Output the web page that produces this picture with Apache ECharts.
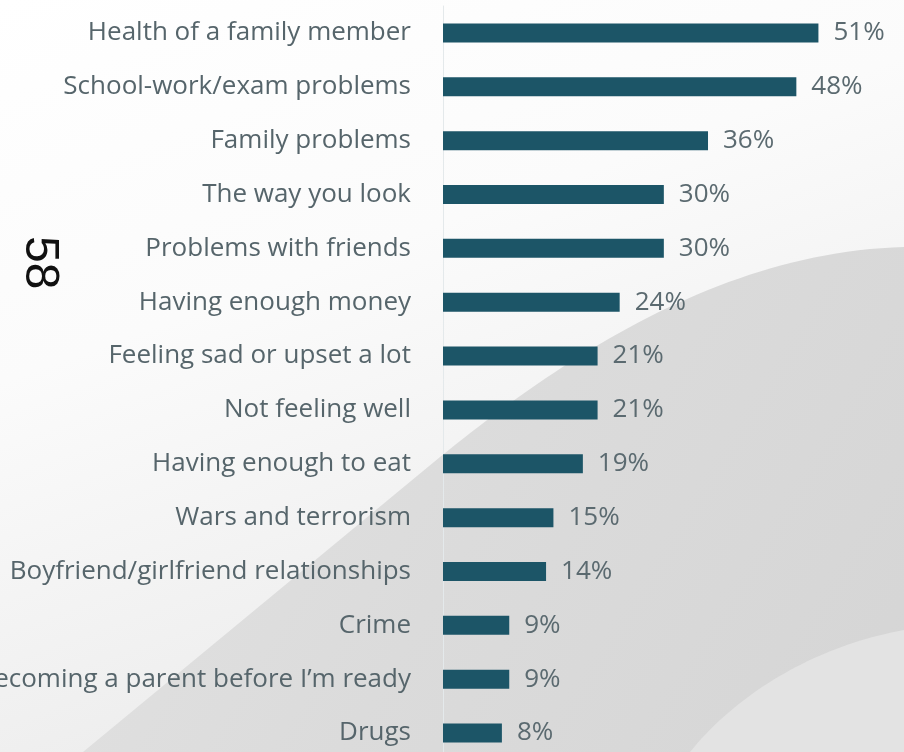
<!DOCTYPE html>
<html>
<head>
<meta charset="utf-8">
<script src="https://cdn.jsdelivr.net/npm/echarts@6/dist/echarts.min.js"></script>
<style>
  html, body { margin: 0; padding: 0; background: #ffffff; }
  #chart { width: 904px; height: 752px; }
</style>
</head>
<body>
<div id="chart"></div>
<script>
// Worries reported, share of respondents (%)
const categories = [
  'Health of a family member',
  'School-work/exam problems',
  'Family problems',
  'The way you look',
  'Problems with friends',
  'Having enough money',
  'Feeling sad or upset a lot',
  'Not feeling well',
  'Having enough to eat',
  'Wars and terrorism',
  'Boyfriend/girlfriend relationships',
  'Crime',
  'Becoming a parent before I\u2019m ready',
  'Drugs'
];
const values = [51, 48, 36, 30, 30, 24, 21, 21, 19, 15, 14, 9, 9, 8];
const pageNumber = '58';

// sample a cubic Bezier into polygon vertices for the backdrop shapes
function cubic(p0, p1, p2, p3, n) {
  const pts = [];
  for (let i = 0; i <= n; i++) {
    const t = i / n, u = 1 - t;
    pts.push([
      u * u * u * p0[0] + 3 * u * u * t * p1[0] + 3 * u * t * t * p2[0] + t * t * t * p3[0],
      u * u * u * p0[1] + 3 * u * u * t * p1[1] + 3 * u * t * t * p2[1] + t * t * t * p3[1]
    ]);
  }
  return pts;
}

// grey sweep: straight diagonal from the bottom edge, bending into a curve to the right edge
const sweep = [[904, 752], [83, 752]]
  .concat(cubic([440, 457], [560, 360], [720, 252], [904, 247], 48));
const swoosh = cubic([690, 752], [740, 690], [820, 645], [904, 630], 40)
  .concat([[904, 752]]);

const chart = echarts.init(document.getElementById('chart'), null, { renderer: 'canvas' });

const option = {
  backgroundColor: '#ffffff',
  animation: false,
  graphic: [
    // soft fade of the page towards the bottom
    {
      type: 'rect',
      z: -11,
      silent: true,
      shape: { x: 0, y: 0, width: 904, height: 752 },
      style: {
        fill: {
          type: 'linear', x: 0, y: 0, x2: 0.3, y2: 1,
          colorStops: [
            { offset: 0, color: '#ffffff' },
            { offset: 0.45, color: '#fbfbfb' },
            { offset: 1, color: '#ececec' }
          ]
        }
      }
    },
    // slide backdrop: broad grey sweep
    {
      type: 'polygon',
      z: -10,
      silent: true,
      shape: { points: sweep },
      style: {
        fill: {
          type: 'linear', x: 0, y: 0, x2: 1, y2: 1,
          colorStops: [
            { offset: 0, color: '#e3e3e3' },
            { offset: 0.5, color: '#dbdbdb' },
            { offset: 1, color: '#d5d5d5' }
          ]
        }
      }
    },
    // lighter swoosh in the lower-right corner
    {
      type: 'polygon',
      z: -9,
      silent: true,
      shape: { points: swoosh },
      style: { fill: '#e3e3e3' }
    },
    // page number, set sideways
    {
      type: 'text',
      x: 63,
      y: 236,
      rotation: -Math.PI / 2,
      style: {
        text: pageNumber,
        font: '48px "Liberation Sans", sans-serif',
        fill: '#111111'
      },
      z: 10
    }
  ],
  grid: {
    left: 443, right: 23, top: 6, height: 754,
    containLabel: false,
    outerBoundsMode: 'none'
  },
  xAxis: {
    type: 'value',
    min: 0,
    max: 59.5,
    show: false
  },
  yAxis: {
    type: 'category',
    data: categories,
    inverse: true,
    axisLine: { show: true, lineStyle: { color: '#e4e9eb', width: 1 } },
    axisTick: { show: false },
    axisLabel: {
      margin: 32,
      color: '#56656b',
      fontFamily: '"Open Sans", sans-serif',
      fontSize: 26
    }
  },
  series: [{
    type: 'bar',
    data: values,
    barWidth: 19,
    itemStyle: { color: '#1c5567' },
    label: {
      show: true,
      position: 'right',
      distance: 15,
      formatter: '{c}%',
      color: '#5b6a70',
      fontFamily: '"Open Sans", sans-serif',
      fontSize: 26
    }
  }]
};

chart.setOption(option);
</script>
</body>
</html>
